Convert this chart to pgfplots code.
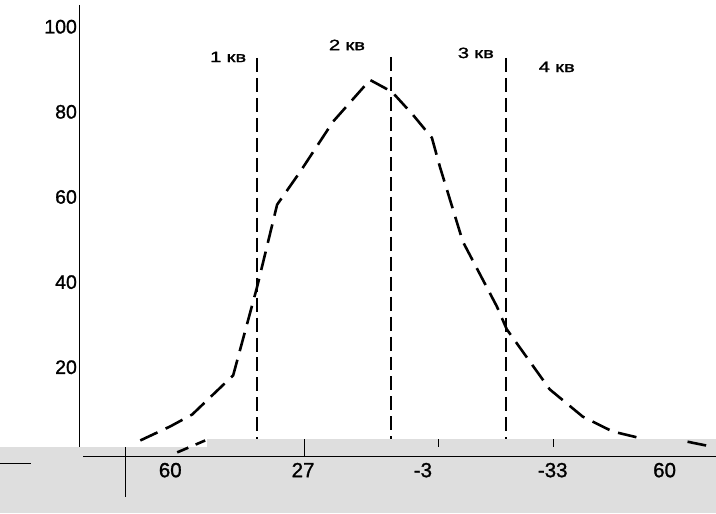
\documentclass[border=0pt]{standalone}
\usepackage{fontspec}
\setmainfont[FakeBold=1.2]{Liberation Sans}
\newfontfamily\widefont[FakeStretch=1.35,FakeBold=1.5]{Liberation Sans}
\usepackage{pgfplots}
\pgfplotsset{compat=1.18}
\definecolor{band}{RGB}{222,222,222}
\begin{document}
\begin{tikzpicture}
\begin{axis}[
  set layers=standard,
  scale only axis,
  width=637pt, height=452pt,
  xmin=79, xmax=716,
  ymin=-0.9384, ymax=105.103,
  clip=false,
  axis line style={draw=none},
  major tick length=0pt,
  xtick={170,303,423,553,665},
  xticklabels={60,27,-3,-33,60},
  ytick={20,40,60,80,100},
  yticklabels={20,40,60,80,100},
  yticklabel style={font=\fontsize{19.5}{22}\selectfont, xshift=1pt},
  xticklabel style={font=\fontsize{20.5}{22}\selectfont, yshift=-3pt},
  unbounded coords=jump,
]
\path (axis cs:0,-14.311) rectangle (axis cs:716,106.276);
\begin{pgfonlayer}{axis background}
\fill[band] (axis cs:0,1.173) rectangle (axis cs:207,-14.311);
\fill[band] (axis cs:207,3.050) rectangle (axis cs:716,-14.311);
\end{pgfonlayer}
% axis lines drawn by hand
\draw[line width=1pt] (axis cs:79,105.103) -- (axis cs:79,1.173);
\draw[line width=1pt] (axis cs:83,-0.938) -- (axis cs:716,-0.938);
\draw[line width=1pt] (axis cs:304,3.05) -- (axis cs:304,-0.938);
\draw[line width=1pt] (axis cs:439,3.05) -- (axis cs:439,1.173);
\draw[line width=1pt] (axis cs:554,3.05) -- (axis cs:554,1.173);
\draw[line width=1pt] (axis cs:125,1.173) -- (axis cs:125,-10.557);
\draw[line width=1pt] (axis cs:0,-2.58) -- (axis cs:31,-2.58);
% quarter boundaries
\addplot[black, line width=1.6pt, dash pattern=on 14pt off 6pt] coordinates {(257,92.67) (257,3.05)};
\addplot[black, line width=1.6pt, dash pattern=on 14pt off 6pt] coordinates {(391,92.90) (391,3.05)};
\addplot[black, line width=1.6pt, dash pattern=on 14pt off 6pt] coordinates {(506,92.67) (506,3.05)};
% curve
\addplot[black, line width=2.6pt, dash pattern=on 19pt off 9pt] coordinates {
(140,2.8)(170,6.1)(192,8.9)(233,18.1)(257,38.9)(277,58.2)(300,65.9)(333,77.7)(370,87.5)(392,84.7)(413,79.3)(432,73.9)(440,67.1)(463,49.5)(497,34.3)(507,28.9)(550,14.8)(583,8.4)(613,4.9)(645,3.1)(665,nan)(688,2.5)(707,1.6)};
\addplot[black, line width=2.6pt, dash pattern=on 12pt off 8pt] coordinates {(177,0.0)(205,2.8)};
% labels
\node[font=\widefont\fontsize{15}{17}\selectfont] at (axis cs:228,92.90) {1\hspace{0.35em}кв};
\node[font=\widefont\fontsize{15}{17}\selectfont] at (axis cs:347,95.72) {2\hspace{0.35em}кв};
\node[font=\widefont\fontsize{15}{17}\selectfont] at (axis cs:476,93.84) {3\hspace{0.35em}кв};
\node[font=\widefont\fontsize{15}{17}\selectfont] at (axis cs:557,90.56) {4\hspace{0.35em}кв};
\end{axis}
\end{tikzpicture}
\end{document}
